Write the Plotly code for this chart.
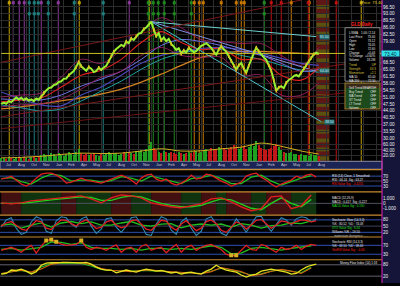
import plotly.graph_objects as go

W, H = 400, 286

# ---------------- data ----------------
price = [47.5, 48.2, 47.6, 48.9, 48.4, 49.6, 50.8, 49.7, 50.6, 49.5,
         50.3, 49.2, 49.8, 48.9, 50.2, 49.6, 51.2, 53.0, 54.3, 55.5,
         55.8, 57.0, 57.4, 58.6, 58.9, 60.2, 60.3, 62.0, 63.2, 64.1,
         66.2, 68.7, 66.5, 65.2, 64.3, 66.1, 65.3, 63.6, 64.2, 65.8,
         64.7, 65.9, 66.8, 69.0, 71.6, 73.8, 75.2, 76.1, 77.3, 76.6,
         79.0, 78.2, 80.6, 79.8, 81.7, 83.0, 83.4, 85.2, 86.1, 87.6,
         89.0, 85.0, 81.8, 83.2, 79.6, 81.0, 79.2, 80.4, 77.8, 76.4,
         74.8, 75.6, 72.9, 74.5, 73.6, 75.8, 74.9, 73.6, 74.2, 75.6,
         76.8, 77.4, 78.2, 77.0, 75.8, 73.9, 72.4, 75.0, 76.6, 75.2,
         73.8, 71.6, 69.2, 66.8, 64.8, 67.0, 68.2, 65.4, 63.1, 66.8,
         70.2, 73.6, 76.0, 74.1, 72.3, 71.0, 69.8, 67.0, 64.2, 59.4,
         54.2, 55.8, 56.4, 55.4, 58.2, 59.6, 60.3, 61.6, 62.2, 61.4,
         63.2, 65.5, 67.2, 69.0, 70.8, 72.6, 73.4, 72.8]

volume = [15, 18, 12, 20, 16, 14, 22, 18, 15, 20, 17, 13, 19, 24, 16, 21,
          28, 35, 30, 25, 40, 32, 27, 38, 30, 26, 33, 45, 36, 30, 42, 55,
          38, 30, 35, 28, 32, 40, 30, 26, 34, 29, 36, 45, 40, 32, 38, 30,
          35, 42, 38, 45, 40, 36, 48, 42, 50, 44, 55, 70, 85, 60, 52, 45,
          40, 48, 42, 38, 45, 40, 36, 42, 38, 35, 40, 44, 38, 42, 48, 40,
          45, 50, 55, 48, 60, 52, 58, 65, 55, 62, 50, 58, 66, 72, 60, 55,
          62, 70, 58, 65, 75, 68, 90, 72, 60, 55, 50, 58, 62, 70, 80, 65,
          50, 45, 40, 38, 42, 35, 32, 30, 36, 28, 30, 25, 32, 28, 30, 26]

ma_idx = [0, 8, 16, 24, 32, 40, 48, 56, 64, 72, 80, 88, 96, 104, 112, 120, 127]
vol_ma = [15, 17, 22, 30, 36, 34, 36, 45, 55, 45, 46, 55, 62, 80, 66, 45, 32]
ma_red = [48.5, 49.5, 50.5, 56, 62, 64.5, 70, 78.5, 84, 78.5, 75, 75.5, 70, 70, 62, 59.5, 66]
bb_upper = [51, 52, 53, 61, 70, 68, 75, 84, 91, 86, 80, 79, 78, 78, 72, 67, 76]
bb_lower = [46, 47, 47.5, 50, 55, 61, 64, 72, 76, 72, 71, 71, 62, 62, 52, 52, 58]
ma_blue = [50, 49.5, 49.5, 52, 56.5, 60, 64, 70, 77, 80, 79, 77, 74, 72, 68, 64, 65]
ma_slate = [53.5, 50, 47, 46.5, 52, 56, 62, 68, 72, 74, 75.5, 76, 75, 73, 70.5, 68, 67]
ma_teal = [47, 45.5, 44, 45, 49, 54, 59, 65, 70, 73, 75, 75, 72, 70, 67, 64.5, 63.5]
ma_orange = [45, 46, 47.5, 49, 50.5, 52.5, 55, 58.5, 62.5, 67, 71, 73, 74, 74, 73.5, 73, 72.5]

# trendlines: start idx, start price, end idx, end price, colour
trend_x0 = [60, 60, 60, 0, 0, 0, 0]
trend_p0 = [89, 89, 89, 68.5, 41, 35, 73]
trend_x1 = [128, 126, 126, 120, 152, 152, 152]
trend_p1 = [38.5, 81.5, 64, 100, 70.5, 55, 73]
trend_col = ["#48c0c8", "#70d0d0", "#8090e0", "#7a1818", "#7a1818", "#6a1414", "#c8c020"]
trend_lbl = ["38.50", "81.50", "64.00"]

vline_idx = [3.2, 31.2, 59.2, 144,
             4.8, 7.2, 9.2, 16, 22.8, 51.2,
             11.2, 13.2, 14.8, 18.8, 29.2, 40.8,
             58.8, 60.8, 62.8, 65.2, 69.2, 76, 105.2,
             77.2, 79.2, 80.8, 88, 94, 96, 97.2, 116, 123.2,
             108, 112, 122.8, 134]
vline_col = (["#c0a000"] * 4 + ["#8a3a9a"] * 6 + ["#1f8080"] * 6 +
             ["#1f8a1f"] * 7 + ["#c87800"] * 9 + ["#c01010"] * 4)

band_edges = [0, 8, 24, 30, 44, 52, 60, 72, 80, 86, 90, 100, 106, 116, 126]

p1_red = [59, 62, 70, 54, 38, 30, 42, 62, 78, 82, 82, 74, 62, 42, 46, 54,
          62, 54, 50, 46, 42, 50, 58, 66, 74, 66, 54, 38, 62, 74, 78, 58,
          50, 58, 42, 34, 42, 54, 74, 58, 62, 78, 74, 62, 50, 42, 30, 38,
          46, 70, 78, 82, 66, 54, 38, 26, 38, 46, 54, 70, 62, 74, 78, 66]
p1_green = [60, 64, 48, 38, 62, 78, 72, 50, 54, 54, 46, 52, 68, 62, 50, 70,
            60, 50, 40, 60, 64, 74, 60, 40, 40, 66, 74, 50, 34, 48, 62, 72]

p2_red = [0.1, -0.1, 0.1, 0.5, 0.7, 0.9, 1.1, 1.3, 1.5, 0.9, 0.1, 1.1, 1.7, 1.5, 1.1, 0.1,
          -0.3, -0.7, -0.9, -0.5, -0.1, 0.9, 1.1, 0.3, -0.7, -1.5, -1.1, 1.3, 1.5, -1.1, -0.5, 1.7]
p2_green = [0.0, 0.0, 0.0, 0.2, 0.5, 0.7, 0.9, 1.1, 1.3, 1.2, 0.6, 0.6, 1.2, 1.5, 1.3, 0.6,
            0.0, -0.4, -0.7, -0.7, -0.4, 0.3, 0.9, 0.7, -0.1, -1.0, -1.3, 0.0, 1.1, 0.0, -0.7, 0.8]

p3_red = [50, 65, 72, 55, 35, 30, 55, 76, 70, 40, 33, 60, 80, 78, 62, 50,
          70, 80, 60, 38, 45, 70, 78, 55, 42, 50, 76, 80, 60, 35, 30, 55,
          78, 74, 45, 30, 60, 76, 50, 28, 40, 72, 80, 62, 30, 20, 45, 70,
          60, 35, 55, 78, 82, 60, 40, 55, 75, 70, 60, 72, 80, 78, 70, 75]
p3_green = [55, 60, 40, 55, 65, 45, 65, 72, 62, 70, 55, 55, 65, 72, 55, 50,
            60, 62, 42, 55, 60, 55, 60, 45, 62, 55, 40, 52, 55, 65, 62, 75]
p3_blue = [45, 80, 90, 40, 10, 20, 70, 95, 85, 25, 15, 75, 95, 90, 60, 45,
           85, 95, 50, 15, 35, 85, 90, 45, 20, 50, 90, 95, 55, 10, 5, 60,
           95, 85, 30, 10, 70, 90, 40, 5, 25, 85, 95, 60, 15, 5, 40, 85,
           55, 20, 60, 95, 98, 55, 25, 60, 90, 80, 55, 85, 95, 90, 70, 85]

p4_red = [41, 48, 55, 45, 32, 50, 64, 28, 60, 86, 91, 80, 70, 64, 66, 68,
          86, 55, 45, 55, 50, 41, 55, 66, 32, 50, 55, 32, 60, 68, 41, 50,
          55, 30, 50, 68, 32, 55, 64, 41, 55, 64, 68, 55, 45, 22, 18, 18,
          41, 64, 45, 41, 68, 60, 45, 32, 55, 45, 50, 64, 45, 60, 68, 64]
p4_green = [45, 50, 42, 48, 55, 80, 78, 68, 75, 55, 50, 50, 45, 50, 42, 50,
            50, 45, 50, 45, 55, 62, 55, 25, 28, 50, 55, 50, 42, 50, 55, 62]

p5_yellow = [39, 42, 57, 55, 61, 52, 39, 50, 78, 87, 89, 91, 90, 91, 90, 91,
             88, 91, 83, 70, 61, 57, 57, 45, 50, 57, 52, 48, 55, 61, 57, 52,
             55, 48, 44, 48, 39, 45, 48, 42, 39, 52, 61, 78, 65, 57, 52, 48,
             35, 26, 35, 39, 52, 57, 61, 57, 52, 48, 39, 42, 57, 70, 78, 83]
p5_green = [40, 50, 55, 45, 70, 85, 88, 88, 86, 75, 60, 55, 52, 52, 55, 55,
            52, 48, 44, 44, 42, 52, 65, 58, 48, 35, 40, 52, 58, 50, 45, 70]
p5_orange = [42, 48, 56, 48, 62, 82, 90, 90, 89, 80, 64, 56, 52, 50, 55, 57,
             53, 49, 46, 44, 41, 50, 68, 60, 50, 32, 38, 52, 60, 52, 42, 66]

date_labels = ["Jul", "Aug", "Oct", "Nov", "Jan", "Feb", "Apr", "May", "Jul", "Aug",
               "Oct", "Nov", "Jan", "Feb", "Apr", "May", "Jul", "Aug", "Oct", "Nov",
               "Jan", "Feb", "Apr", "May", "Jul", "Aug"]

info_left = ["L/SMA", "Last Price", "Open", "High", "Low", "Change", "% Change", "Volume"]
info_right = ["1.00 / 2.14", "73.40", "73.12", "74.05", "72.60", "+0.44", "+0.60%", "18.2M"]
info2_left = ["Trend", "Strength", "Momentum"]
info2_right = ["UP", "63.3", "+2.1"]
info3_left = ["MA 50", "MA 200"]
info3_right = ["65.00", "72.50"]
sig_left = ["Sell Trend", "Buy Trend", "MA Trend", "ST Trend", "LT Trend", "Volume"]
sig_right = ["BEARISH", "OFF", "OFF", "OFF", "OFF", "OFF"]

# ---------------- geometry helpers ----------------
XD = 382 / W


def dom(top, bot):
    return [1 - bot / H, 1 - top / H]


def py(p):
    return 1 - p / H


FONT = "Liberation Sans"
fig = go.Figure()
idx = list(range(len(price)))

# ---------------- main panel ----------------
for arr, col, w in [(ma_orange, "#d08020", 1.3), (ma_teal, "#1fa0a0", 1), (ma_slate, "#4848b8", 1.2),
                    (ma_blue, "#7070e8", 1), (bb_upper, "#9a2060", 0.9), (bb_lower, "#9a2060", 0.9),
                    (ma_red, "#e02020", 1.1)]:
    fig.add_trace(go.Scatter(x=ma_idx, y=arr, mode="lines", line=dict(color=col, width=w, shape="spline"),
                             xaxis="x", yaxis="y", hoverinfo="skip"))

for i in range(len(trend_x0)):
    fig.add_trace(go.Scatter(x=[trend_x0[i], trend_x1[i]], y=[trend_p0[i], trend_p1[i]], mode="lines",
                             line=dict(color=trend_col[i], width=1), xaxis="x", yaxis="y", hoverinfo="skip"))

fig.add_trace(go.Scatter(x=idx, y=price, mode="lines", line=dict(color="#98f030", width=2),
                         xaxis="x", yaxis="y"))
hi_x = [i for i in range(1, len(price) - 1) if price[i] > price[i - 1] + 1.5 or price[i] < price[i - 1] - 1.8]
fig.add_trace(go.Scatter(x=hi_x, y=[price[i] for i in hi_x], mode="markers",
                         marker=dict(color="#e0c020", size=2.5, symbol="line-ns", line=dict(color="#e0c020", width=1.5)),
                         xaxis="x", yaxis="y"))

fig.add_trace(go.Scatter(x=vline_idx, y=[98.6] * len(vline_idx), mode="markers",
                         marker=dict(color=vline_col, size=3, symbol="square"), xaxis="x", yaxis="y"))
sub_idx = vline_idx[10:23]
fig.add_trace(go.Scatter(x=sub_idx, y=[93] * len(sub_idx), mode="markers",
                         marker=dict(color=vline_col[10:23], size=3, symbol="square"), xaxis="x", yaxis="y"))

# ---------------- volume ----------------
vcol = ["#20a020" if i == 0 or price[i] >= price[i - 1] else "#c01818" for i in idx]
fig.add_trace(go.Bar(x=idx, y=volume, marker=dict(color=vcol, line_width=0), width=0.8,
                     xaxis="x", yaxis="y2"))
fig.add_trace(go.Scatter(x=ma_idx, y=vol_ma, mode="lines", line=dict(color="#d0b020", width=1, shape="spline"),
                         xaxis="x", yaxis="y2"))

# ---------------- lower panels ----------------
fine = lambda a: [2 * i for i in range(len(a))]
coarse = lambda a: [4 * i for i in range(len(a))]


def osc(arr, xs, col, ax, w=1.0):
    fig.add_trace(go.Scatter(x=xs(arr), y=arr, mode="lines", line=dict(color=col, width=w),
                             xaxis="x2", yaxis=ax, hoverinfo="skip"))


osc(p1_green, coarse, "#20c020", "y3", 1.3)
osc(p1_red, fine, "#e02020", "y3", 1.3)
osc(p2_green, coarse, "#20d020", "y4", 1.4)
osc(p2_red, coarse, "#e02020", "y4", 1.4)
osc(p3_blue, fine, "#2f88b0", "y5", 1.1)
osc(p3_green, coarse, "#20c020", "y5", 1.3)
osc(p3_red, fine, "#e02020", "y5", 1.3)
osc(p4_green, coarse, "#20c020", "y6", 1.3)
osc(p4_red, fine, "#e02020", "y6", 1.3)
fig.add_trace(go.Scatter(x=[fine(p4_red)[i] for i in range(len(p4_red)) if p4_red[i] >= 80 or p4_red[i] <= 20],
                         y=[v for v in p4_red if v >= 80 or v <= 20], mode="markers",
                         marker=dict(color="#d8b020", size=4, symbol="square"), xaxis="x2", yaxis="y6"))
osc(p5_green, coarse, "#20c020", "y7", 1.1)
osc(p5_orange, coarse, "#d06010", "y7", 1.1)
osc(p5_yellow, fine, "#e8e020", "y7", 1.3)

# ---------------- shapes ----------------
shapes = []
shapes.append(dict(type="rect", xref="paper", yref="paper", x0=XD, x1=1, y0=0, y1=1,
                   fillcolor="#15153a", line_width=0, layer="below"))
shapes.append(dict(type="rect", xref="x", yref="paper", x0=126, x1=131.2, y0=py(163), y1=1,
                   fillcolor="#5a5010", line_width=0, layer="below"))
for k in range(0, 163, 9):
    shapes.append(dict(type="rect", xref="x", yref="paper", x0=126, x1=131.2, y0=py(min(k + 5, 163)), y1=py(k),
                       fillcolor="#5e1616", line_width=0, layer="below"))
for xv, c in zip(vline_idx, vline_col):
    shapes.append(dict(type="line", xref="x", yref="paper", x0=xv, x1=xv, y0=py(163), y1=1,
                       line=dict(color=c, width=1), layer="below"))
for i in range(len(band_edges) - 1):
    shapes.append(dict(type="rect", xref="x2", yref="paper", x0=band_edges[i], x1=band_edges[i + 1],
                       y0=py(217), y1=py(194), fillcolor="#421010" if i % 2 == 0 else "#103410",
                       line_width=0, layer="below"))
shapes.append(dict(type="rect", xref="paper", yref="paper", x0=0, x1=XD, y0=py(171), y1=py(163),
                   fillcolor="#1c2456", line=dict(color="#9090a0", width=1), layer="below"))
for yy in [171.5, 194, 217.5, 239.5, 262.5]:
    shapes.append(dict(type="line", xref="paper", yref="paper", x0=0, x1=XD, y0=py(yy), y1=py(yy),
                       line=dict(color="#c88a30", width=1.2)))
for ax, lv, c in [("y3", 70, "#3050b0"), ("y3", 30, "#3050b0"), ("y3", 50, "#404060"),
                  ("y4", 0, "#505060"),
                  ("y5", 80, "#3050b0"), ("y5", 20, "#3050b0"), ("y5", 50, "#404060"),
                  ("y6", 64, "#3050b0"), ("y6", 23, "#3050b0"),
                  ("y7", 80, "#606070"), ("y7", 30, "#606070")]:
    shapes.append(dict(type="line", xref="paper", yref=ax, x0=0, x1=XD, y0=lv, y1=lv,
                       line=dict(color=c, width=1), layer="below"))
shapes.append(dict(type="rect", xref="paper", yref="paper", x0=345 / W, x1=380 / W, y0=py(82), y1=py(28),
                   fillcolor="#000000", line=dict(color="#8a8a8a", width=1)))
shapes.append(dict(type="rect", xref="paper", yref="paper", x0=345 / W, x1=380 / W, y0=py(110), y1=py(84),
                   fillcolor="#1c4a1c", line=dict(color="#8a6a28", width=1.2)))
shapes.append(dict(type="rect", xref="paper", yref="paper", x0=346 / W, x1=379 / W, y0=py(89), y1=py(85),
                   fillcolor="#3a2a1a", line_width=0))
shapes.append(dict(type="line", xref="paper", yref="paper", x0=XD, x1=XD, y0=0, y1=1,
                   line=dict(color="#c020a8", width=1.2)))

# ---------------- annotations ----------------
ann = []
FS = 3.0
sm = dict(family=FONT, size=FS, color="#e8e8e8")
yel = dict(family=FONT, size=FS, color="#d8c040")


def txt(x, y, s, font, xa="left", ya="top", align="left"):
    ann.append(dict(xref="paper", yref="paper", x=x / W, y=py(y), text=s, showarrow=False, font=font,
                    xanchor=xa, yanchor=ya, align=align))


ann.append(dict(xref="paper", yref="paper", x=362 / W, y=py(25), text="<b>GLD Daily</b>", showarrow=False,
                font=dict(family=FONT, size=4.5, color="#ff2020"), xanchor="center", yanchor="middle"))
ann.append(dict(xref="paper", yref="paper", x=372 / W, y=py(3), text="Price  73.40", showarrow=False,
                font=dict(family=FONT, size=4, color="#e0d020"), xanchor="center", yanchor="middle"))
txt(347, 29.5, "<br>".join(info_left), sm)
txt(378, 29.5, "<br>".join(info_right), sm, "right", "top", "right")
txt(347, 62, "<br>".join(info2_left), yel)
txt(378, 62, "<br>".join(info2_right), yel, "right", "top", "right")
txt(347, 73.8, "<br>".join(info3_left), sm)
txt(378, 73.8, "<br>".join(info3_right), sm, "right", "top", "right")
txt(347, 85, "<br>".join(sig_left), sm)
txt(378, 85, "<br>".join(sig_right), sm, "right", "top", "right")

ann.append(dict(xref="paper", yref="y", x=1, y=price[-1], text="73.40", showarrow=False, xanchor="right",
                font=dict(family=FONT, size=5, color="#003040"), bgcolor="#30e0e8", width=17, height=5, borderpad=0))
for i in range(3):
    ann.append(dict(xref="x", yref="y", x=trend_x1[i] + 1, y=trend_p1[i], text=trend_lbl[i], showarrow=False,
                    xanchor="left", font=dict(family=FONT, size=3.5, color="#d0f0f0"), bgcolor="#206870",
                    borderpad=0))
for i, lab in enumerate(date_labels):
    ann.append(dict(xref="x", yref="paper", x=i * 5 + 1, y=py(167), text=lab, showarrow=False,
                    font=dict(family=FONT, size=3.8, color="#c8c8d0"), xanchor="left", yanchor="middle"))

pf = dict(family=FONT, size=3.0, color="#e8e8e8")
panel_txt = [
    (174, ["RSI (14) Close, 1 Smoothed", "RSI : 66.14  Sig : 63.27"], "RSI Value Sig : -0.4255", "#ff2020"),
    (196, ["MACD (12,26,9)", "MACD : 0.417  Sig : 0.227"], "MACD Value Sig : 0.190", "#20e020"),
    (218.6, ["Stochastic Slow (14,3,3)", "%K : 80.52  %D : 74.08"], "STO Value Sig : 6.44", "#20e020"),
    (241, ["Stochastic RSI (14,3,3)", "%K : 63.10  %D : 58.40"], "StoRSI Value Sig : -4.60", "#ff2020"),
]
for y0, lines, last, c in panel_txt:
    txt(330, y0, "<br>".join(lines), pf)
    txt(330, y0 + 8.0, last, dict(family=FONT, size=3.0, color=c))
txt(330, 230.6, "Williams %R : -19.50", pf)
txt(348, 238.2, "- - - momentum divergence - - -", dict(family=FONT, size=2.8, color="#c0c0c0"),
    "center", "middle", "center")
txt(380, 266, "Money Flow Index (14) 1:33", pf, "right", "middle", "right")

# ---------------- layout ----------------
main_ticks = [30 + 3.5 * k for k in range(21) if abs(30 + 3.5 * k - price[-1]) > 3.5]
tickf = dict(family=FONT, size=4.6, color="#f0f0f0")
common = dict(side="right", anchor="x", showgrid=False, zeroline=False, tickfont=tickf, ticks="",
              fixedrange=True)
fig.update_layout(
    width=W, height=H, margin=dict(l=0, r=0, t=0, b=0),
    paper_bgcolor="#000000", plot_bgcolor="#000000", showlegend=False, bargap=0,
    xaxis=dict(domain=[0, XD], range=[-0.5, 152.3], showticklabels=False, showgrid=True,
               gridcolor="#2c2c2c", gridwidth=1, dtick=5, zeroline=False, anchor="y"),
    xaxis2=dict(domain=[0, XD], range=[-0.5, 152.3], matches="x", visible=False, anchor="y3"),
    yaxis=dict(common, domain=dom(0, 140), range=[30, 100], showgrid=True, gridcolor="#2c2c2c",
               tickvals=main_ticks, ticktext=["%.2f" % v for v in main_ticks]),
    yaxis2=dict(common, domain=dom(140, 163), range=[0, 100], showgrid=True, gridcolor="#2c2c2c",
                tickvals=[25, 50, 75], ticktext=["20.00", "40.00", "60.00"]),
    yaxis3=dict(common, domain=dom(172, 193), range=[10, 94], tickvals=[30, 50, 70]),
    yaxis4=dict(common, domain=dom(194, 217), range=[-2.3, 2.3], tickvals=[-1, 0, 1],
                ticktext=["-1.000", "0", "1.000"]),
    yaxis5=dict(common, domain=dom(218, 239), range=[0, 100], tickvals=[20, 50, 80]),
    yaxis6=dict(common, domain=dom(240, 262), range=[0, 100], tickvals=[23, 64], ticktext=["30", "70"]),
    yaxis7=dict(common, domain=dom(263, 286), range=[0, 100], tickvals=[30, 80], ticktext=["20", "80"]),
    shapes=shapes, annotations=ann,
)

fig.write_html("out.html")
